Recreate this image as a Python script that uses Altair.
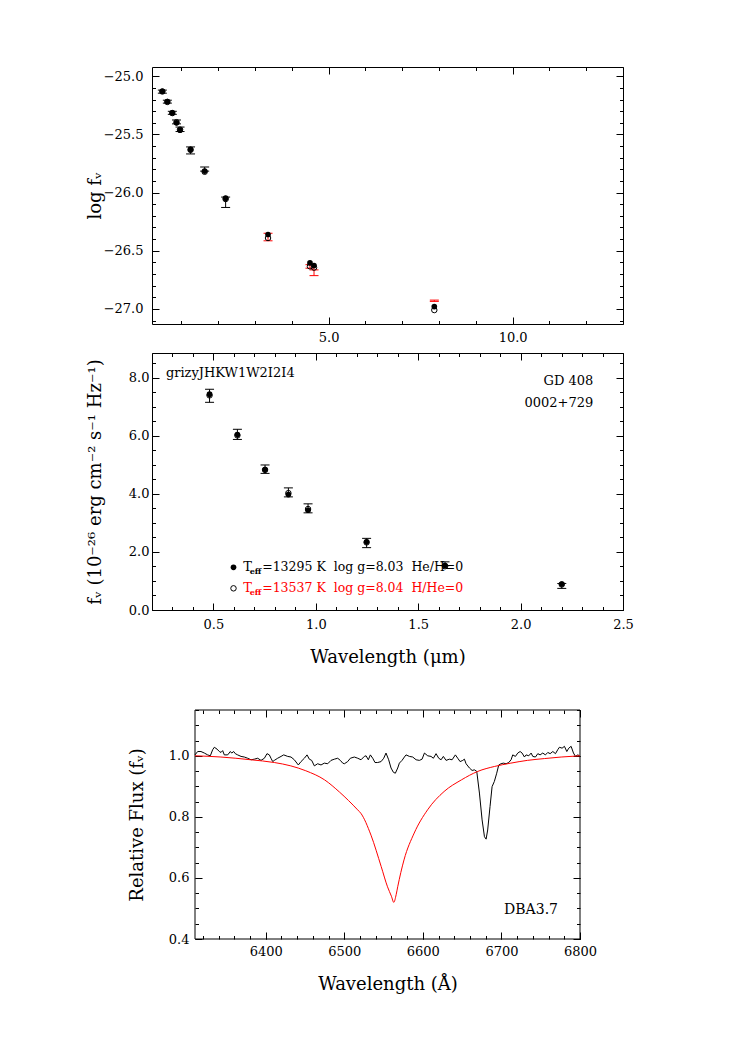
import altair as alt
import numpy as np
import pandas as pd

FONT = "DejaVu Serif"
RED = "#ff0000"

# ---------------- photometry (fluxes in 1e-26 erg cm^-2 s^-1 Hz^-1) ----------------
bands = ["g", "r", "i", "z", "y", "J", "H", "K", "W1", "W2", "I2", "I4"]
wavelength_um = [0.481, 0.617, 0.752, 0.866, 0.962, 1.248, 1.631, 2.201, 3.353, 4.603, 4.493, 7.872]
obs_flux = [7.385, 6.055, 4.855, 4.055, 3.505, 2.31, 1.595, 0.83, 0.416, 0.2048, 0.2319, 0.1175]
obs_err = [0.225, 0.175, 0.145, 0.155, 0.155, 0.16, 0.065, 0.085, 0.031, 0.0116, 0.008, 0.0015]
model_h = [7.44, 6.05, 4.84, 3.98, 3.44, 2.35, 1.53, 0.895, 0.4365, 0.2355, 0.2483, 0.1047]
model_he = [7.40, 6.02, 4.83, 4.03, 3.48, 2.33, 1.51, 0.88, 0.407, 0.2265, 0.2323, 0.0977]

# ---------------- spectrum around H-alpha ----------------
spec_wave = [6310.0, 6313.4, 6317.6, 6321.9, 6326.1, 6329.5, 6332.5, 6334.6, 6338.0, 6341.0, 6343.1, 6345.2,
             6347.3, 6351.6, 6355.0, 6356.7, 6359.2, 6361.3, 6364.3, 6368.6, 6372.8, 6377.0, 6381.3, 6385.5,
             6389.8, 6394.0, 6398.3, 6401.6, 6404.6, 6406.7, 6408.9, 6411.0, 6415.2, 6419.5, 6422.9, 6428.0,
             6432.2, 6436.4, 6441.5, 6444.9, 6449.2, 6452.6, 6455.5, 6458.5, 6461.9, 6466.1, 6470.4, 6474.6,
             6478.9, 6483.1, 6487.4, 6491.6, 6495.0, 6498.0, 6500.1, 6504.3, 6507.7, 6512.8, 6517.1, 6521.3,
             6525.5, 6527.7, 6530.6, 6533.2, 6536.2, 6539.1, 6542.5, 6546.8, 6550.2,
             6553.1, 6556.5, 6559.5, 6562.5, 6565.0, 6568.0, 6570.1, 6573.5, 6576.5, 6578.6, 6582.9, 6587.1,
             6591.4, 6595.6, 6599.0, 6602.0, 6606.2, 6610.4, 6613.4, 6616.8, 6620.2, 6623.2, 6626.1, 6629.5,
             6633.8, 6637.2, 6641.4, 6644.4, 6647.4, 6650.8, 6652.9, 6655.0, 6659.3, 6662.7, 6665.6, 6668.6,
             6672.0, 6675.4, 6678.4, 6680.5, 6682.5, 6685.5, 6688.1, 6691.0, 6694.0, 6696.6, 6699.5, 6702.5,
             6705.9, 6709.3, 6712.3, 6714.4, 6717.8, 6720.8, 6723.8, 6726.3, 6729.3, 6731.4, 6734.8, 6737.8,
             6739.9, 6743.3, 6746.3, 6749.2, 6752.6, 6756.0, 6759.0, 6762.0, 6765.4, 6768.8, 6771.7, 6773.8,
             6777.2, 6780.2, 6783.2, 6785.7, 6788.7, 6791.7, 6794.3, 6797.2, 6799.4]
spec_flux = [1.003, 1.014, 1.014, 1.009, 1.003, 1.000, 1.020, 1.028, 1.022, 1.014, 1.011, 1.017,
             1.003, 1.003, 1.014, 1.009, 1.014, 1.007, 1.003, 0.998, 0.996, 0.992, 0.987, 0.989,
             0.992, 0.985, 0.992, 1.007, 1.003, 0.992, 0.981, 0.985, 0.992, 0.998, 1.003, 0.998,
             0.996, 0.987, 0.970, 0.981, 0.992, 1.003, 0.989, 0.985, 0.967, 0.974, 0.970, 0.976,
             0.974, 0.985, 0.989, 0.992, 0.985, 0.976, 0.974, 0.981, 0.992, 0.996, 0.992, 0.987,
             0.998, 1.000, 0.987, 1.003, 0.992, 0.978, 0.978, 0.981, 0.992,
             1.009, 0.987, 0.960, 0.946, 0.943, 0.960, 0.976, 0.985, 0.996, 1.003, 0.998, 0.996,
             0.987, 0.985, 0.989, 1.009, 1.000, 0.998, 0.992, 1.007, 0.992, 0.987, 0.998, 0.985,
             0.989, 0.987, 1.003, 0.992, 0.981, 0.985, 0.989, 0.974, 0.960, 0.952, 0.954, 0.949,
             0.878, 0.790, 0.735, 0.727, 0.757, 0.834, 0.899, 0.916, 0.943, 0.970, 0.974, 0.976,
             0.974, 0.978, 0.987, 1.003, 0.998, 1.009, 1.014, 1.009, 0.996, 1.003, 1.000, 1.009,
             0.998, 0.996, 1.007, 1.003, 1.009, 1.003, 1.011, 1.007, 1.014, 1.007, 1.020, 1.028,
             1.025, 1.031, 1.014, 1.025, 1.031, 1.009, 0.998, 1.003, 1.000]
model_wave = [6310, 6343, 6381, 6411, 6432, 6451, 6475, 6494, 6517, 6521, 6534, 6547, 6555, 6560, 6563,
              6566, 6568, 6576, 6589, 6606, 6627, 6649, 6670, 6691, 6712, 6733, 6755, 6776, 6800]
model_flux = [1.000, 0.996, 0.987, 0.978, 0.967, 0.951, 0.921, 0.881, 0.823, 0.812, 0.740, 0.637, 0.571,
              0.540, 0.520, 0.545, 0.571, 0.659, 0.747, 0.823, 0.883, 0.921, 0.949, 0.965, 0.976, 0.985,
              0.991, 0.996, 1.000]

# ---------------- annotations ----------------
filter_label = "grizyJHKW1W2I2I4"
star_names = ["GD 408", "0002+729"]
legend_rest = ["=13295\u00a0K\u00a0\u00a0log\u00a0g=8.03\u00a0\u00a0He/H=0",
               "=13537\u00a0K\u00a0\u00a0log\u00a0g=8.04\u00a0\u00a0H/He=0"]
spectral_type = "DBA3.7"

phot = pd.DataFrame({"band": bands, "wl": wavelength_um, "obs": obs_flux, "err": obs_err,
                     "mh": model_h, "mhe": model_he})
phot["lo"] = phot["obs"] - phot["err"]
phot["hi"] = phot["obs"] + phot["err"]
phot["log_lo"] = np.log10(phot["lo"]) - 26
phot["log_hi"] = np.log10(phot["hi"]) - 26
phot["log_h"] = np.log10(phot["mh"]) - 26
phot["log_he"] = np.log10(phot["mhe"]) - 26

spec = pd.DataFrame({"wave": spec_wave, "flux": spec_flux})
model = pd.DataFrame({"wave": model_wave, "flux": model_flux})

TITLE_SIZE = 18


def scale(dom):
    return alt.Scale(domain=dom, nice=False, zero=False)


def axis(orient, values, size, labels=False, fmt="", pad=0, title="", tx=None, ty=None, shift=0):
    kw = dict(orient=orient, values=values, tickSize=size, offset=-size - shift, domain=False, grid=False,
              tickColor="black", tickWidth=1, labels=labels, labelFlush=False, labelOverlap=False,
              labelFont=FONT, labelFontSize=13, labelColor="black", labelPadding=pad,
              title=title, titleFont=FONT, titleFontSize=TITLE_SIZE, titleFontWeight="normal",
              titleColor="black")
    if fmt:
        kw["format"] = fmt
    if tx is not None:
        kw["titleX"] = tx
        kw["titleBaseline"] = "middle"
    if ty is not None:
        kw["titleY"] = ty
        kw["titleBaseline"] = "middle"
    return alt.Axis(**kw)


def frame_layers(xdom, ydom, xmaj, xmin, ymaj, ymin, xfmt, yfmt, xpad, ypad,
                 xtitle="", ytitle="", xty=None, ytx=None, xtx=None, left_shift=0):
    d = pd.DataFrame({"x": [xdom[1]], "y": [ydom[0]]})

    def lay(ax, ay):
        return alt.Chart(d).mark_point(opacity=0).encode(
            x=alt.X("x:Q", scale=scale(xdom), axis=ax),
            y=alt.Y("y:Q", scale=scale(ydom), axis=ay))

    return [
        lay(axis("bottom", xmaj, 7, True, xfmt, xpad, xtitle, tx=xtx, ty=xty),
            axis("left", ymaj, 7, True, yfmt, ypad, ytitle, tx=ytx, shift=left_shift)),
        lay(axis("bottom", xmin, 3.5), axis("left", ymin, 3.5, shift=left_shift)),
        lay(axis("top", xmaj, 7), axis("right", ymaj, 7)),
        lay(axis("top", xmin, 3.5), axis("right", ymin, 3.5)),
    ]


def X(field, dom):
    return alt.X(field, scale=scale(dom), axis=None)


def Y(field, dom):
    return alt.Y(field, scale=scale(dom), axis=None)


# ================= top panel: log f_nu =================
XT = [0.2, 13.0]
YT = [-27.13, -24.92]
top_frame = frame_layers(XT, YT, [5, 10], list(range(1, 14)),
                         [-27.0, -26.5, -26.0, -25.5, -25.0],
                         [round(-27.1 + 0.1 * i, 2) for i in range(23)],
                         ".1f", ".1f", 7.5, 9, "", "log f\u1d65", None, -64)
ebcolor = alt.when(alt.datum.wl > 3).then(alt.value(RED)).otherwise(alt.value("black"))
tb = alt.Chart(phot)
top_data = [
    tb.mark_rule(strokeWidth=1).encode(x=X("wl:Q", XT), y=Y("log_lo:Q", YT), y2="log_hi:Q", color=ebcolor),
    tb.mark_tick(orient="horizontal", size=9, thickness=1, opacity=1).encode(
        x=X("wl:Q", XT), y=Y("log_lo:Q", YT), color=ebcolor),
    tb.mark_tick(orient="horizontal", size=9, thickness=1, opacity=1).encode(
        x=X("wl:Q", XT), y=Y("log_hi:Q", YT), color=ebcolor),
    tb.mark_circle(size=32, opacity=1, color="black").encode(x=X("wl:Q", XT), y=Y("log_h:Q", YT)),
    tb.mark_point(shape="circle", filled=False, size=30, opacity=1, color="black", strokeWidth=1).encode(
        x=X("wl:Q", XT), y=Y("log_he:Q", YT)),
]
top = alt.layer(*top_frame, *top_data).resolve_axis(
    x="independent", y="independent").properties(width=471, height=257)

# ================= middle panel: f_nu =================
XM = [0.2, 2.5]
YM = [0.0, 8.86]
mid_frame = frame_layers(XM, YM, [0.5, 1.0, 1.5, 2.0, 2.5],
                         [round(0.2 + 0.1 * i, 2) for i in range(24)],
                         [0, 2, 4, 6, 8], [0.5 * i for i in range(18)],
                         ".1f", ".1f", 8, 3, "Wavelength (\u03bcm)",
                         "f\u1d65 (10\u207b\u00b2\u2076 erg cm\u207b\u00b2 s\u207b\u00b9 Hz\u207b\u00b9)", 54, -64)
mb = alt.Chart(phot).transform_filter("datum.wl < 2.5")
mid_data = [
    mb.mark_rule(strokeWidth=1, color="black").encode(x=X("wl:Q", XM), y=Y("lo:Q", YM), y2="hi:Q"),
    mb.mark_tick(orient="horizontal", size=9, thickness=1, opacity=1, color="black").encode(
        x=X("wl:Q", XM), y=Y("lo:Q", YM)),
    mb.mark_tick(orient="horizontal", size=9, thickness=1, opacity=1, color="black").encode(
        x=X("wl:Q", XM), y=Y("hi:Q", YM)),
    mb.mark_circle(size=32, opacity=1, color="black").encode(x=X("wl:Q", XM), y=Y("mh:Q", YM)),
    mb.mark_point(shape="circle", filled=False, size=30, opacity=1, color="black", strokeWidth=1).encode(
        x=X("wl:Q", XM), y=Y("mhe:Q", YM)),
]
leg = pd.DataFrame({"x": [0.598, 0.598], "y": [1.47, 0.747], "tx": [0.645, 0.645],
                    "sx": [0.677, 0.677], "rx": [0.738, 0.738], "sy": [1.30, 0.577],
                    "rest": legend_rest, "row": [0, 1]})
lb = alt.Chart(leg)
txtcolor = alt.when(alt.datum.row == 1).then(alt.value(RED)).otherwise(alt.value("black"))
mid_ann = [
    lb.transform_filter("datum.row == 0").mark_circle(size=32, opacity=1, color="black").encode(
        x=X("x:Q", XM), y=Y("y:Q", YM)),
    lb.transform_filter("datum.row == 1").mark_point(shape="circle", filled=False, size=30, opacity=1,
                                                      color="black", strokeWidth=1).encode(
        x=X("x:Q", XM), y=Y("y:Q", YM)),
    lb.mark_text(text="T", align="left", baseline="middle", font=FONT, fontSize=13).encode(
        x=X("tx:Q", XM), y=Y("y:Q", YM), color=txtcolor),
    lb.mark_text(text="eff", align="left", baseline="middle", font=FONT, fontSize=8,
                 fontWeight="bold").encode(x=X("sx:Q", XM), y=Y("sy:Q", YM), color=txtcolor),
    lb.mark_text(align="left", baseline="middle", font=FONT, fontSize=12.5).encode(
        x=X("rx:Q", XM), y=Y("y:Q", YM), text="rest:N", color=txtcolor),
    alt.Chart(pd.DataFrame({"x": [0.268], "y": [8.17], "t": [filter_label]})).mark_text(
        align="left", baseline="middle", font=FONT, fontSize=13, color="black").encode(
        x=X("x:Q", XM), y=Y("y:Q", YM), text="t:N"),
    alt.Chart(pd.DataFrame({"x": [2.355, 2.355], "y": [7.89, 7.14], "t": star_names})).mark_text(
        align="right", baseline="middle", font=FONT, fontSize=13, color="black").encode(
        x=X("x:Q", XM), y=Y("y:Q", YM), text="t:N"),
]
mid = alt.layer(*mid_frame, *mid_data, *mid_ann).resolve_axis(
    x="independent", y="independent").properties(width=471, height=257)

# ================= bottom panel: spectrum =================
# the panel is inset 43 px from the left edge of the panels above; the x scale
# spans that inset so the framed plot region runs 6310-6800 A
BW_PLOT, INSET = 385, 43
XB_PLOT = [6310, 6800]
XB = [XB_PLOT[0] - INSET * (XB_PLOT[1] - XB_PLOT[0]) / BW_PLOT, XB_PLOT[1]]
YB = [0.4, 1.15]
bot_frame = frame_layers(XB, YB, [6400, 6500, 6600, 6700, 6800],
                         list(range(6320, 6801, 20)),
                         [0.4, 0.6, 0.8, 1.0], [round(0.4 + 0.05 * i, 2) for i in range(16)],
                         "d", ".1f", 6.5, 6, "Wavelength (\u00c5)", "Relative Flux (f\u1d65)", 52, -65,
                         xtx=INSET + BW_PLOT / 2, left_shift=INSET)
box = pd.DataFrame({"x": [XB_PLOT[0]], "x2": [XB_PLOT[1]], "y": [YB[0]], "y2": [YB[1]]})
bot_data = [
    alt.Chart(box).mark_rect(fillOpacity=0, stroke="black", strokeWidth=1).encode(
        x=X("x:Q", XB), x2="x2:Q", y=Y("y:Q", YB), y2="y2:Q"),
    alt.Chart(spec).mark_line(color="black", strokeWidth=1).encode(x=X("wave:Q", XB), y=Y("flux:Q", YB)),
    alt.Chart(model).mark_line(color=RED, strokeWidth=1, interpolate="monotone").encode(
        x=X("wave:Q", XB), y=Y("flux:Q", YB)),
    alt.Chart(pd.DataFrame({"x": [6772], "y": [0.495], "t": [spectral_type]})).mark_text(
        align="right", baseline="middle", font=FONT, fontSize=14, color="black").encode(
        x=X("x:Q", XB), y=Y("y:Q", YB), text="t:N"),
]
bot = alt.layer(*bot_frame, *bot_data).resolve_axis(
    x="independent", y="independent").properties(
    width=INSET + BW_PLOT, height=229, view=alt.ViewBackground(stroke="transparent"))

gap = alt.Chart(pd.DataFrame({"v": [0]})).mark_point(opacity=0).encode(
    x=alt.X("v:Q", axis=None), y=alt.Y("v:Q", axis=None)).properties(
    width=10, height=42, view=alt.ViewBackground(stroke="transparent"))

chart = alt.vconcat(top, mid, gap, bot, spacing=29, bounds="flush").properties(
    padding={"left": 77, "top": 58, "right": 5, "bottom": 5}
).configure_view(stroke="black", strokeWidth=1)

chart.save("out.html", embed_options={"renderer": "svg", "actions": False})
